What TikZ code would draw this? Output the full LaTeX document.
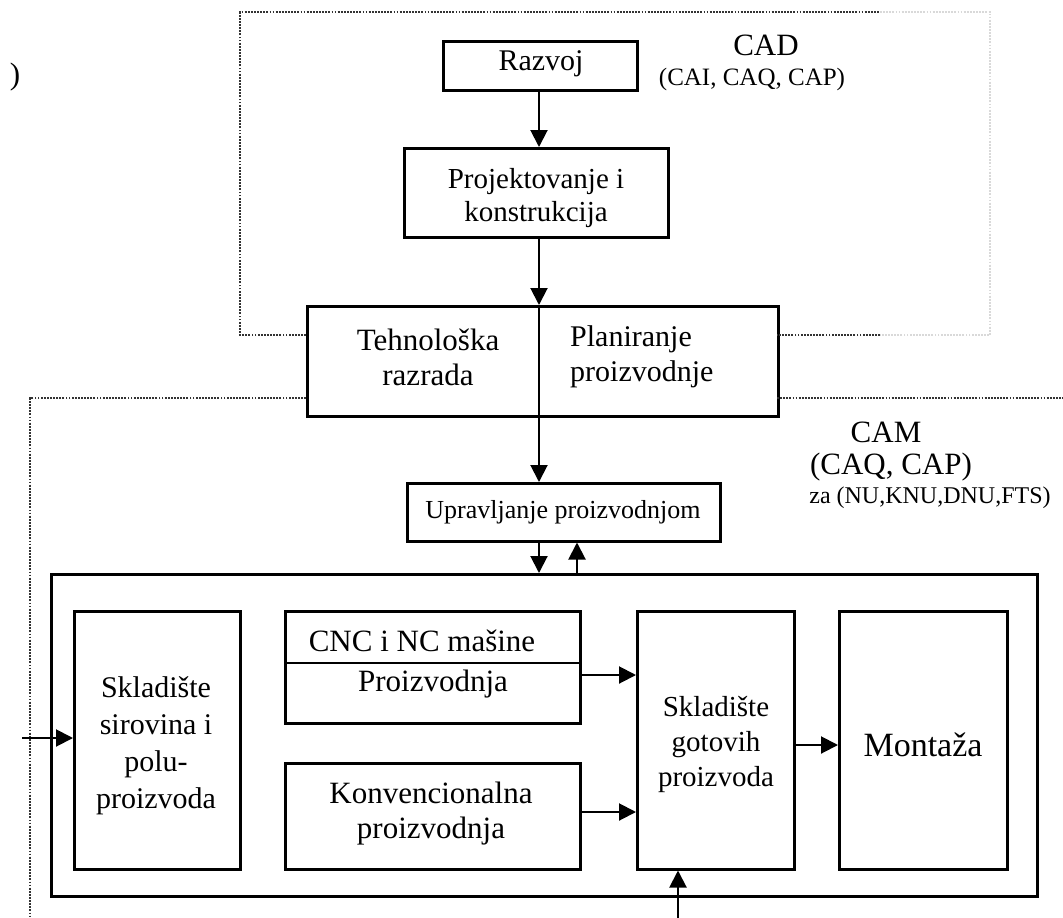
\documentclass[tikz,border=0pt]{standalone}
\usepackage{fontspec}
\setmainfont{Liberation Serif}
\usetikzlibrary{arrows.meta}
\newcommand{\upfont}{\fontsize{26}{33}\selectfont}
\newcommand{\topfont}{\fontsize{29}{33}\selectfont}
\newcommand{\lblfont}{\fontsize{31}{35}\selectfont}
\newcommand{\smallfont}{\fontsize{24}{28}\selectfont}
\newcommand{\subfont}{\fontsize{25}{28}\selectfont}
\newcommand{\bigfont}{\fontsize{31}{34}\selectfont}
\tikzset{
  blk/.style={draw, line width=2.5pt, inner sep=0pt, anchor=north west},
  txt/.style={inner sep=0pt, font=\lblfont, align=center},
  flow/.style={line width=2pt, -{Triangle[length=17pt,width=17pt]}},
  zone/.style={line width=1.8pt, black!80, dash pattern=on 1.8pt off 1.3pt},
  faintzone/.style={zone, black!15},
}
\begin{document}
\begin{tikzpicture}[x=1pt,y=-1pt]
\useasboundingbox (0,0) rectangle (1063,918);

% stray bracket in the margin
\node[txt, font=\bigfont] (br) at (15,77) {)};

% CAD block
\node[blk, minimum width=194pt, minimum height=49pt] (razvoj) at (442,40) {};
\node[txt, font=\fontsize{30}{33}\selectfont] (razvojT) at (541,64) {Razvoj};
\node[blk, minimum width=264pt, minimum height=89pt] (proj) at (403,147) {};
\node[txt, font=\topfont] (projT) at (536,198) {Projektovanje i\\konstrukcija};
\node[txt, font=\bigfont] (cad) at (766,45) {CAD};
\node[txt, font=\subfont] (cadsub) at (752,79) {(CAI, CAQ, CAP)};

% shared block between CAD and CAM
\node[blk, minimum width=471pt, minimum height=110pt] (tehno) at (306,305) {};
\node[txt] (tehnoT) at (428,357) {Tehnološka\\razrada};
\node[txt, align=left, anchor=west, font=\fontsize{30}{35}\selectfont] (planT) at (570,357) {Planiranje\\proizvodnje};

% CAM labels
\node[txt, font=\bigfont] (cam) at (886,432) {CAM};
\node[txt, font=\bigfont] (camsub) at (891,467) {(CAQ, CAP)};
\node[txt, font=\smallfont] (camfor) at (930,498) {za (NU,KNU,DNU,FTS)};

% production control
\node[blk, minimum width=313pt, minimum height=58pt] (uprav) at (406,482) {};
\node[txt, font=\upfont] (upravT) at (563,512) {Upravljanje proizvodnjom};

% shop floor frame
\node[blk, minimum width=986pt, minimum height=322pt] (floor) at (50,573) {};

\node[blk, minimum width=166pt, minimum height=258pt] (sirov) at (73,610) {};
\node[txt, font=\fontsize{30}{37}\selectfont] (sirovT) at (156,746) {Skladište\\sirovina i\\polu-\\proizvoda};

\node[blk, minimum width=295pt, minimum height=112pt] (cnc) at (284,610) {};
\coordinate (cncL) at (284,663);
\coordinate (cncR) at (579,663);
\node[txt] (cncT) at (422,641) {CNC i NC mašine};
\node[txt] (cncP) at (433,684) {Proizvodnja};

\node[blk, minimum width=295pt, minimum height=106pt] (konv) at (284,762) {};
\node[txt] (konvT) at (431,814) {Konvencionalna\\proizvodnja};

\node[blk, minimum width=157pt, minimum height=258pt] (gotov) at (636,610) {};
\node[txt, font=\fontsize{29}{35}\selectfont] (gotovT) at (716,744) {Skladište\\gotovih\\proizvoda};

\node[blk, minimum width=168pt, minimum height=258pt] (mont) at (838,610) {};
\node[txt, font=\fontsize{34}{36}\selectfont] (montT) at (923,745) {Montaža};

\draw[line width=2.5pt] (cncL) -- (cncR);

% zone outlines
\coordinate (cadA) at (306,335);
\coordinate (cadB) at (240,335);
\coordinate (cadC) at (240,12);
\coordinate (cadD) at (880,12);
\coordinate (cadE) at (990,12);
\coordinate (cadF) at (990,335);
\coordinate (cadG) at (880,335);
\coordinate (cadH) at (777,335);
\draw[zone] (cadA) -- (cadB) -- (cadC) -- (cadD);
\draw[faintzone] (cadD) -- (cadE) -- (cadF) -- (cadG);
\draw[zone] (cadG) -- (cadH);

\coordinate (camA) at (306,398);
\coordinate (camB) at (30,398);
\coordinate (camC) at (30,918);
\coordinate (camD) at (777,398);
\coordinate (camE) at (1063,398);
\draw[zone] (camA) -- (camB) -- (camC);
\draw[zone] (camD) -- (camE);

% main vertical flow, kept on one axis
\coordinate (axA) at (539,89);
\draw[flow] (axA) -- (axA |- proj.north);
\coordinate (axB) at (539,236);
\draw[flow] (axB) -- (axB |- tehno.north);
\coordinate (axC) at (539,305);
\coordinate (axD) at (539,415);
\draw[line width=2pt] (axC) -- (axD);
\draw[flow] (axD) -- (axD |- uprav.north);
\coordinate (axE) at (539,540);
\draw[flow] (axE) -- (axE |- floor.north);
\coordinate (upA) at (577,573);
\draw[flow] (upA) -- (upA |- uprav.south);

% flows on the shop floor
\coordinate (cncOut) at (579,675);
\draw[flow] (cncOut) -- (cncOut -| gotov.west);
\coordinate (konvOut) at (579,812);
\draw[flow] (konvOut) -- (konvOut -| gotov.west);
\coordinate (gotOut) at (793,745);
\draw[flow] (gotOut) -- (gotOut -| mont.west);

\coordinate (inL) at (22,738);
\draw[flow] (inL) -- (inL -| sirov.west);
\coordinate (inB) at (678,918);
\draw[flow] (inB) -- (inB |- gotov.south);
\end{tikzpicture}
\end{document}
